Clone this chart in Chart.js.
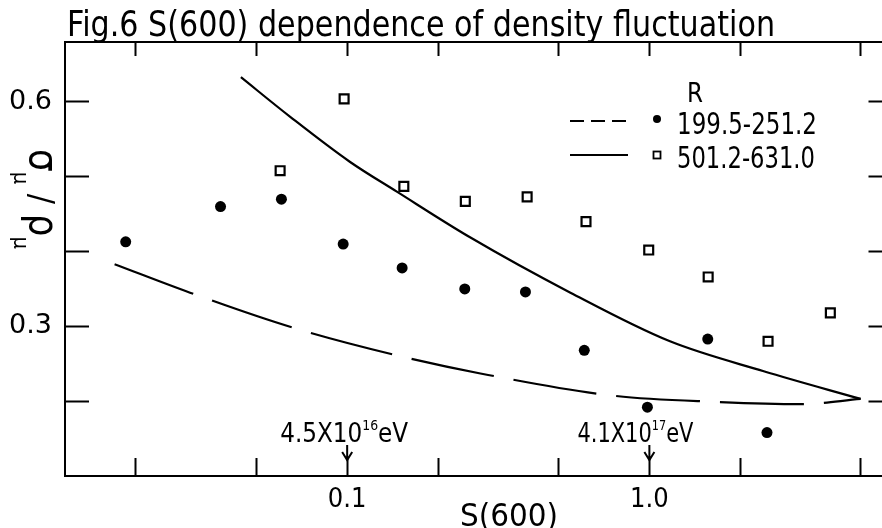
<!DOCTYPE html>
<html>
<head>
<meta charset="utf-8">
<title>Fig.6 S(600) dependence of density fluctuation</title>
<script src="https://cdn.jsdelivr.net/npm/chart.js@4.4.0/dist/chart.umd.min.js"></script>
<style>
  html, body { margin: 0; padding: 0; background: #fff; overflow: hidden; }
  #wrap { width: 882px; height: 528px; overflow: hidden; }
  canvas { display: block; }
</style>
</head>
<body>
<div id="wrap"><canvas id="fig6" width="895" height="528"></canvas></div>
<script>
// R = 199.5-251.2 (filled circles, dashed curve)
const innerS = [0.0185, 0.0381, 0.0606, 0.097, 0.152, 0.245, 0.389, 0.609, 0.985, 1.56, 2.45];
const innerRatio = [0.413, 0.460, 0.470, 0.410, 0.378, 0.350, 0.346, 0.268, 0.192, 0.283, 0.158];
const innerCurveS = [0.0170, 0.0302, 0.0664, 0.150, 0.276, 0.772, 1.68, 3.16, 5.0];
const innerCurveRatio = [0.383, 0.345, 0.298, 0.260, 0.237, 0.207, 0.199, 0.196, 0.203];

// R = 501.2-631.0 (open squares, solid curve)
const outerS = [0.060, 0.0977, 0.154, 0.246, 0.394, 0.617, 0.995, 1.565, 2.47, 3.97];
const outerRatio = [0.508, 0.604, 0.487, 0.467, 0.473, 0.440, 0.402, 0.366, 0.280, 0.318];
const outerCurveS = [0.0445, 0.0648, 0.102, 0.146, 0.255, 0.548, 1.17, 2.39, 5.0];
const outerCurveRatio = [0.633, 0.580, 0.520, 0.480, 0.419, 0.345, 0.280, 0.240, 0.203];

const xTicks = [0.02, 0.05, 0.1, 0.2, 0.5, 1, 2, 5];
const xTickLabels = ['', '', '0.1', '', '', '1.0', '', ''];
const yTicks = [0.2, 0.3, 0.4, 0.5, 0.6];
const yTickLabels = ['', '0.3', '', '', '0.6'];

const legendTitle = 'R';
const legendLabels = ['199.5-251.2', '501.2-631.0'];
const energyAt = [0.1, 1.0];
const energyMant = ['4.5X10', '4.1X10'];
const energyExp = ['16', '17'];

const titleText = 'Fig.6 S(600) dependence of density fluctuation';
const xTitle = 'S(600)';

const COND = "'DejaVu Sans Condensed', 'DejaVu Sans', sans-serif";

function pts(xs, ys) {
    return xs.map((x, i) => ({ x: x, y: ys[i] }));
}

function labelFor(vals, labels) {
    return function (v) {
        for (let i = 0; i < vals.length; i++) {
            if (Math.abs(vals[i] - v) < 1e-6) return labels[i];
        }
        return '';
    };
}

function setTicks(vals) {
    return function (scale) {
        scale.ticks = vals.map(v => ({ value: v }));
    };
}

// fixed box size, and no extra label padding pushed into the layout
function fixBox(w, h) {
    return function (s) {
        if (w !== null) s.width = w;
        if (h !== null) s.height = h;
        s.paddingTop = 0;
        s.paddingBottom = 0;
        s.paddingLeft = 0;
        s.paddingRight = 0;
    };
}

// text squeezed to a given width, so the narrow lettering of the scan is kept
function squeeze(ctx, parts, x, y, width, align) {
    ctx.save();
    let total = 0;
    parts.forEach(p => {
        ctx.font = p.size + 'px "DejaVu Sans"';
        p.w = ctx.measureText(p.t).width;
        total += p.w;
    });
    const k = width / total;
    ctx.translate(x, y);
    ctx.scale(k, 1);
    let cx = align === 'center' ? -total / 2 : 0;
    ctx.fillStyle = '#000';
    ctx.textBaseline = 'alphabetic';
    ctx.textAlign = 'left';
    parts.forEach(p => {
        ctx.font = p.size + 'px "DejaVu Sans"';
        ctx.fillText(p.t, cx, p.dy || 0);
        cx += p.w;
    });
    ctx.restore();
}

const figText = {
    id: 'figText',
    afterDraw(chart) {
        const ctx = chart.ctx;
        const xs = chart.scales.x;
        ctx.save();
        ctx.strokeStyle = '#000';
        ctx.fillStyle = '#000';

        // title sitting on the top frame line
        squeeze(ctx, [{ t: titleText, size: 36 }], 67, 36, 708, 'left');

        // y title, read from top to bottom
        ctx.save();
        ctx.translate(30, 199);
        ctx.rotate(Math.PI / 2);
        const yParts = [
            { t: 'σ', size: 40 }, { t: 'μ', size: 22, dy: 16 },
            { t: ' / ', size: 34 },
            { t: 'ρ', size: 40 }, { t: 'μ', size: 22, dy: 16 }
        ];
        squeeze(ctx, yParts, 0, 0, 100, 'center');
        ctx.restore();

        // x title
        squeeze(ctx, [{ t: xTitle, size: 32 }], 509, 526, 98, 'center');

        // energy markers with arrows
        energyAt.forEach((v, i) => {
            const px = xs.getPixelForValue(v);
            squeeze(ctx, [
                { t: energyMant[i], size: 26 },
                { t: energyExp[i], size: 14, dy: -12 },
                { t: 'eV', size: 26 }
            ], i === 0 ? px - 67 : px - 72, 442, i === 0 ? 128 : 116, 'left');
            ctx.lineWidth = 2;
            ctx.beginPath();
            ctx.moveTo(px, 445);
            ctx.lineTo(px, 460);
            ctx.moveTo(px - 5, 452);
            ctx.lineTo(px, 460);
            ctx.lineTo(px + 5, 452);
            ctx.stroke();
        });

        // legend
        squeeze(ctx, [{ t: legendTitle, size: 27 }], 695, 102, 16, 'center');
        ctx.lineWidth = 2;
        ctx.setLineDash([14, 7]);
        ctx.beginPath();
        ctx.moveTo(570, 121);
        ctx.lineTo(630, 121);
        ctx.stroke();
        ctx.setLineDash([]);
        ctx.beginPath();
        ctx.moveTo(570, 155);
        ctx.lineTo(628, 155);
        ctx.stroke();
        ctx.beginPath();
        ctx.arc(657, 119, 4, 0, Math.PI * 2);
        ctx.fill();
        ctx.lineWidth = 1.8;
        ctx.strokeRect(653.5, 151.5, 7, 7);
        squeeze(ctx, [{ t: legendLabels[0], size: 30 }], 677, 134, 140, 'left');
        squeeze(ctx, [{ t: legendLabels[1], size: 30 }], 677, 168, 138, 'left');

        ctx.restore();
    }
};

const blackGrid = (len) => ({
    display: true,
    drawOnChartArea: false,
    drawTicks: true,
    tickLength: len,
    tickWidth: 2,
    tickColor: '#000'
});
const blackBorder = { display: true, color: '#000', width: 2 };

const ctx = document.getElementById('fig6');
const chart = new Chart(ctx, {
    type: 'scatter',
    data: {
        datasets: [
            {
                label: 'R 199.5-251.2 fit',
                data: pts(innerCurveS, innerCurveRatio),
                showLine: true,
                borderColor: '#000',
                borderWidth: 2.2,
                borderDash: [84, 20],
                pointRadius: 0,
                cubicInterpolationMode: 'monotone',
            },
            {
                label: 'R 501.2-631.0 fit',
                data: pts(outerCurveS, outerCurveRatio),
                showLine: true,
                borderColor: '#000',
                borderWidth: 2.2,
                pointRadius: 0,
                cubicInterpolationMode: 'monotone',
            },
            {
                label: '199.5-251.2',
                data: pts(innerS, innerRatio),
                pointStyle: 'circle',
                pointRadius: 5.5,
                backgroundColor: '#000',
                borderColor: '#000',
                borderWidth: 0,
            },
            {
                label: '501.2-631.0',
                data: pts(outerS, outerRatio),
                pointStyle: 'rect',
                pointRadius: 6.3,
                backgroundColor: '#fff',
                borderColor: '#000',
                borderWidth: 2.2,
            },
        ],
    },
    options: {
        responsive: false,
        animation: false,
        layout: { padding: 0 },
        plugins: {
            legend: { display: false },
            title: { display: false },
            tooltip: { enabled: false },
        },
        scales: {
            x: {
                type: 'logarithmic',
                position: 'bottom',
                min: 0.01165,
                max: 6.09,
                afterBuildTicks: setTicks(xTicks),
                afterFit: fixBox(null, 52),
                grid: blackGrid(-18),
                border: blackBorder,
                ticks: {
                    callback: labelFor(xTicks, xTickLabels),
                    autoSkip: false,
                    maxRotation: 0,
                    padding: 26,
                    color: '#000',
                    font: { family: COND, size: 27 },
                },
            },
            x2: {
                type: 'logarithmic',
                axis: 'x',
                position: 'top',
                min: 0.01165,
                max: 6.09,
                afterBuildTicks: setTicks(xTicks),
                afterFit: fixBox(null, 42),
                grid: blackGrid(-14),
                border: blackBorder,
                ticks: { display: false },
            },
            y: {
                type: 'linear',
                position: 'left',
                min: 0.1,
                max: 0.68,
                afterBuildTicks: setTicks(yTicks),
                afterFit: fixBox(65, null),
                grid: blackGrid(-24),
                border: blackBorder,
                ticks: {
                    callback: labelFor(yTicks, yTickLabels),
                    autoSkip: false,
                    padding: 37,
                    color: '#000',
                    font: { family: "'DejaVu Sans', sans-serif", size: 27 },
                },
            },
            y2: {
                type: 'linear',
                axis: 'y',
                position: 'right',
                min: 0.1,
                max: 0.68,
                afterBuildTicks: setTicks(yTicks),
                afterFit: fixBox(4, null),
                grid: blackGrid(-18),
                border: blackBorder,
                ticks: { display: false },
            },
        },
    },
    plugins: [figText],
});
</script>
</body>
</html>
